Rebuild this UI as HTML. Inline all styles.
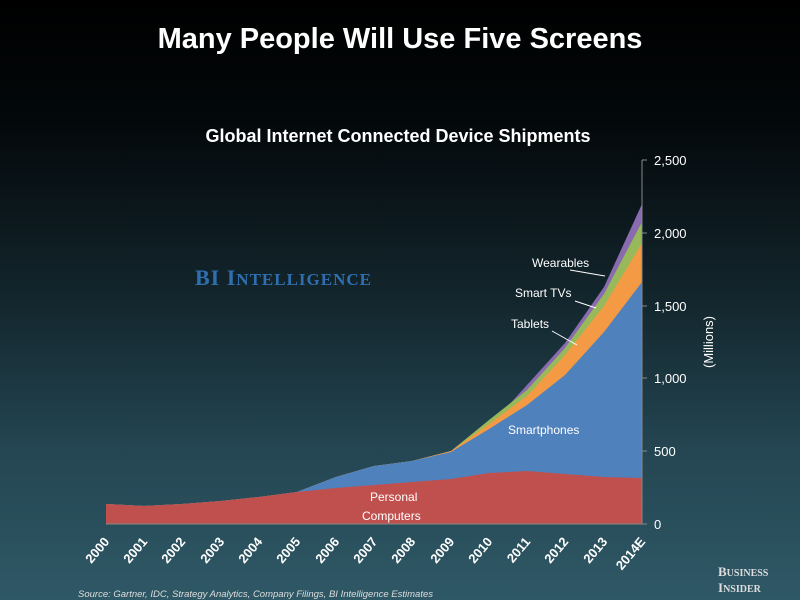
<!DOCTYPE html>
<html><head><meta charset="utf-8"><style>
body{margin:0;width:800px;height:600px;overflow:hidden;background:linear-gradient(#000 0%,#03080a 20%,#13262d 50%,#244652 75%,#2f5866 100%);font-family:"Liberation Sans",sans-serif}
svg{display:block}
</style></head><body>
<svg width="800" height="600" xmlns="http://www.w3.org/2000/svg" font-family="Liberation Sans, sans-serif">
<text x="400" y="48" fill="#fff" font-size="29" font-weight="bold" text-anchor="middle">Many People Will Use Five Screens</text>
<text x="398" y="142" fill="#fff" font-size="18" font-weight="bold" text-anchor="middle">Global Internet Connected Device Shipments</text>
<text x="195" y="285" fill="#2f6fb0" font-size="22" font-family="Liberation Serif, serif" font-weight="bold" letter-spacing="1">BI I<tspan font-size="17">NTELLIGENCE</tspan></text>
<!-- wearables -->
<polygon fill="#8a6bb0" points="106,524 106,504 144,506 182,504 221,501 259,497 297,492 336,477 374,466 412,461 451,451 489,427 527,385 565,343 604,287 642,204 642,524"/>
<!-- smart TVs -->
<polygon fill="#97b95a" points="106,524 106,504 144,506 182,504 221,501 259,497 297,492 336,477 374,466 412,461 451,451 489,420 527,390 565,348 604,294 642,222 642,524"/>
<!-- tablets -->
<polygon fill="#f49a45" points="106,524 106,504 144,506 182,504 221,501 259,497 297,492 336,477 374,466 412,461 451,451 489,424 527,396 565,355 604,306 642,243 642,524"/>
<!-- smartphones -->
<polygon fill="#4f81bd" points="106,524 106,504 144,506 182,504 221,501 259,497 297,492 336,477 374,466 412,461 451,452 489,429 527,405 565,375 604,332 642,282 642,524"/>
<!-- PCs -->
<polygon fill="#c0504d" points="106,504 144,506 182,504 221,501 259,497 297,492 336,488 374,485 412,482 451,479 489,473 527,471 565,474 604,477 642,478 642,524 106,524"/>
<!-- axis -->
<line x1="642" y1="160" x2="642" y2="524" stroke="#888" stroke-width="1"/>
<line x1="106" y1="524" x2="642" y2="524" stroke="#888" stroke-width="1"/>
<g stroke="#888"><line x1="642" y1="160" x2="647" y2="160"/><line x1="642" y1="233" x2="647" y2="233"/><line x1="642" y1="306" x2="647" y2="306"/><line x1="642" y1="378" x2="647" y2="378"/><line x1="642" y1="451" x2="647" y2="451"/><line x1="642" y1="524" x2="647" y2="524"/></g>
<g fill="#fff" font-size="13"><text x="654" y="165">2,500</text><text x="654" y="238">2,000</text><text x="654" y="311">1,500</text><text x="654" y="383">1,000</text><text x="654" y="456">500</text><text x="654" y="529">0</text></g>
<text transform="translate(713,342) rotate(-90)" fill="#fff" font-size="13" text-anchor="middle">(Millions)</text>
<g fill="#fff" font-size="12">
<text x="532" y="267">Wearables</text><text x="515" y="297">Smart TVs</text><text x="511" y="328">Tablets</text>
<text x="508" y="434">Smartphones</text>
<text x="370" y="501">Personal</text><text x="362" y="520">Computers</text></g>
<g stroke="#fff" stroke-width="1"><line x1="570" y1="270" x2="605" y2="276"/><line x1="575" y1="301" x2="596" y2="308"/><line x1="552" y1="331" x2="577" y2="345"/></g>
<g fill="#fff" font-size="13" font-weight="bold">
<text transform="translate(110,542) rotate(-50)" text-anchor="end">2000</text>
<text transform="translate(148,542) rotate(-50)" text-anchor="end">2001</text>
<text transform="translate(186,542) rotate(-50)" text-anchor="end">2002</text>
<text transform="translate(225,542) rotate(-50)" text-anchor="end">2003</text>
<text transform="translate(263,542) rotate(-50)" text-anchor="end">2004</text>
<text transform="translate(301,542) rotate(-50)" text-anchor="end">2005</text>
<text transform="translate(340,542) rotate(-50)" text-anchor="end">2006</text>
<text transform="translate(378,542) rotate(-50)" text-anchor="end">2007</text>
<text transform="translate(416,542) rotate(-50)" text-anchor="end">2008</text>
<text transform="translate(455,542) rotate(-50)" text-anchor="end">2009</text>
<text transform="translate(493,542) rotate(-50)" text-anchor="end">2010</text>
<text transform="translate(531,542) rotate(-50)" text-anchor="end">2011</text>
<text transform="translate(569,542) rotate(-50)" text-anchor="end">2012</text>
<text transform="translate(608,542) rotate(-50)" text-anchor="end">2013</text>
<text transform="translate(646,542) rotate(-50)" text-anchor="end">2014E</text>
</g>
<text x="78" y="597" fill="#ddd" font-size="9.5" font-style="italic">Source: Gartner, IDC, Strategy Analytics, Company Filings, BI Intelligence Estimates</text>
<g fill="#ddd" font-family="Liberation Serif, serif" font-weight="bold"><text x="718" y="576" font-size="13">B<tspan font-size="10">USINESS</tspan></text><text x="718" y="592" font-size="13">I<tspan font-size="10">NSIDER</tspan></text></g>
</svg>
</body></html>
